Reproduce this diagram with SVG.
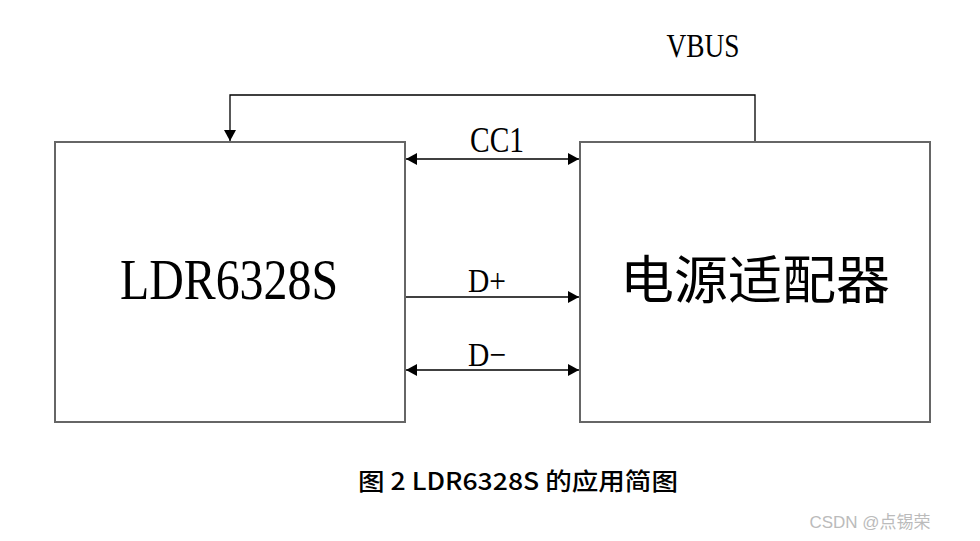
<svg xmlns="http://www.w3.org/2000/svg" width="980" height="541" viewBox="0 0 980 541">
<style>
.box{fill:#fff;stroke:#666;stroke-width:2}
.wire{fill:none;stroke:#000;stroke-width:1.3}
.lat{font-family:"Liberation Serif",serif;fill:#000}
.cjk{font-family:"Noto Sans CJK SC",sans-serif;fill:#000}
</style>
<defs>
<marker id="ah" viewBox="0 0 10 10" refX="10" refY="5" markerWidth="11" markerHeight="12" markerUnits="userSpaceOnUse" orient="auto-start-reverse" preserveAspectRatio="none">
<path d="M0,0 L10,5 L0,10 Z" fill="#000"/>
</marker>
</defs>
<rect width="980" height="541" fill="#fff"/>
<g id="ldr6328s">
<rect class="box" x="55" y="142" width="350" height="280"/>
<text class="lat" x="229" y="299" font-size="58" text-anchor="middle" textLength="218" lengthAdjust="spacingAndGlyphs">LDR6328S</text>
</g>
<g id="adapter">
<rect class="box" x="580" y="142" width="350" height="280"/>
<text class="cjk" x="755" y="299" font-size="52" text-anchor="middle" textLength="270" lengthAdjust="spacingAndGlyphs">电源适配器</text>
</g>
<g id="connectors">
<path class="wire" d="M755,141 V95 H230 V141" marker-end="url(#ah)"/>
<path class="wire" d="M406,159 H579" marker-start="url(#ah)" marker-end="url(#ah)"/>
<path class="wire" d="M406,297 H579" marker-end="url(#ah)"/>
<path class="wire" d="M406,370 H579" marker-start="url(#ah)" marker-end="url(#ah)"/>
<text class="lat" x="703" y="57" font-size="33" text-anchor="middle" textLength="73" lengthAdjust="spacingAndGlyphs">VBUS</text>
<text class="lat" x="497" y="152" font-size="36" text-anchor="middle" textLength="54" lengthAdjust="spacingAndGlyphs">CC1</text>
<text class="lat" x="487" y="292" font-size="34" text-anchor="middle" textLength="38" lengthAdjust="spacingAndGlyphs">D+</text>
<text class="lat" x="487" y="366" font-size="34" text-anchor="middle" textLength="38" lengthAdjust="spacingAndGlyphs">D−</text>
</g>
<text class="cjk" x="518" y="490" font-size="24" font-weight="500" text-anchor="middle" textLength="320" lengthAdjust="spacingAndGlyphs">图 2 LDR6328S 的应用简图</text>
<text x="870" y="528" font-family="'Liberation Sans','Noto Sans CJK SC',sans-serif" font-size="17" fill="#bbb" text-anchor="middle">CSDN @点锡荣</text>
</svg>
